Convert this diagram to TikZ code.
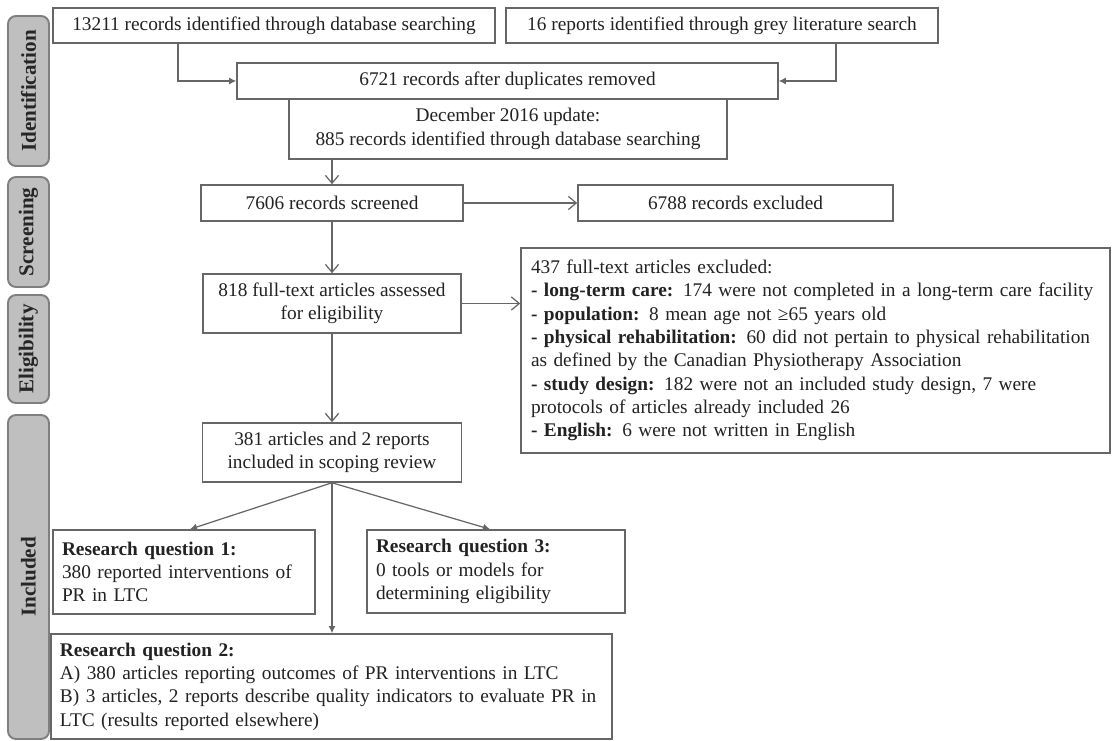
\documentclass[tikz,border=0pt]{standalone}
\usepackage{fontspec}
\setmainfont{Liberation Serif}
\usetikzlibrary{arrows.meta,positioning,calc}
\definecolor{linegrey}{HTML}{666666}
\definecolor{phasefill}{HTML}{BFBFBF}
\definecolor{phaseline}{HTML}{7F7F7F}
\definecolor{txt}{HTML}{222222}
\tikzstyle{box}=[rectangle, draw=linegrey, line width=0.9pt, fill=white, inner sep=0pt, text=txt, font=\fontsize{11}{13.3}\selectfont, align=center, anchor=center]
\tikzstyle{annot}=[box, align=left, inner xsep=0.2cm]
\tikzstyle{phase}=[rectangle, rounded corners=0.16cm, draw=phaseline, fill=phasefill, line width=1.1pt, minimum height=0.82cm, inner sep=0pt, text=black!85, font=\fontsize{12}{14}\selectfont\bfseries, rotate=90]
\tikzstyle{arr}=[draw=linegrey, line width=0.7pt, -{Latex[length=4pt,width=4pt]}]
\tikzstyle{barb}=[draw=linegrey, line width=0.7pt, -{Straight Barb[length=4.5pt,width=7.5pt]}]
\newcommand{\drawphases}[0]
{
  \node[phase, minimum width=3.0cm](ident) at (0.57,-1.82){Identification};
  \node[phase, minimum width=2.2cm](screen) at (0.57,-4.64){Screening};
  \node[phase, minimum width=2.16cm](elig) at (0.57,-6.98){Eligibility};
  \node[phase, minimum width=6.48cm](inclu) at (0.57,-11.54){Included};
}

\begin{document}
\begin{tikzpicture}
	\useasboundingbox (0,0) rectangle (22.24,-14.82);

	\drawphases{}

	% identification
	\node[box, minimum width=8.84cm, minimum height=0.70cm](search) at (5.48,-0.51){13211 records identified through database searching};
	\node[box, minimum width=8.64cm, minimum height=0.70cm](grey) at (14.44,-0.51){16 reports identified through grey literature search};
	\node[box, minimum width=10.82cm, minimum height=0.72cm](dups) at (10.15,-1.62){6721 records after duplicates removed};
	\node[box, minimum width=8.76cm, minimum height=1.20cm](update) at (10.16,-2.58){December 2016 update:\\885 records identified through database searching};

	% screening and eligibility
	\node[box, minimum width=5.24cm, minimum height=0.72cm](screened) at (6.64,-4.06){7606 records screened};
	\node[box, minimum width=6.30cm, minimum height=0.72cm](excl) at (14.71,-4.06){6788 records excluded};
	\node[box, minimum width=5.16cm, minimum height=1.18cm](fulltext) at (6.64,-6.07){818 full-text articles assessed\\for eligibility};
	\node[annot, text width=11.38cm, minimum height=4.10cm](ftexcl) at (16.31,-7.01){437 full-text articles excluded:\\
		\textbf{- long-term care:} 174 were not completed in a long-term care facility\\
		\textbf{- population:} 8 mean age not ≥65 years old\\
		\textbf{- physical rehabilitation:} 60 did not pertain to physical rehabilitation\\
		as defined by the Canadian Physiotherapy Association\\
		\textbf{- study design:} 182 were not an included study design, 7 were\\
		protocols of articles already included 26\\
		\textbf{- English:} 6 were not written in English};

	% included
	\node[box, minimum width=5.18cm, minimum height=1.18cm](incl) at (6.64,-9.05){381 articles and 2 reports\\included in scoping review};
	\node[annot, text width=4.88cm, inner xsep=0.18cm, minimum height=1.68cm](rqone) at (3.68,-11.44){\textbf{Research question 1:}\\380 reported interventions of\\PR in LTC};
	\node[annot, text width=4.80cm, inner xsep=0.18cm, minimum height=1.66cm](rqthree) at (9.92,-11.43){\textbf{Research question 3:}\\0 tools or models for\\determining eligibility};
	\node[annot, text width=10.86cm, inner xsep=0.18cm, minimum height=2.10cm](rqtwo) at (6.63,-13.73){\textbf{Research question 2:}\\
		A) 380 articles reporting outcomes of PR interventions in LTC\\
		B) 3 articles, 2 reports describe quality indicators to evaluate PR in\\
		LTC (results reported elsewhere)};

	\coordinate (ljoin) at (3.56,-1.62);
	\coordinate (rjoin) at (16.72,-1.62);
	\draw[arr] (search.south -| ljoin) |- (dups.west);
	\draw[arr] (grey.south -| rjoin) |- (dups.east);
	\draw[barb] (update.south -| screened.north) -- (screened.north);
	\draw[barb] (screened.east) -- (excl.west);
	\draw[barb] (screened.south) -- (fulltext.north);
	\draw[barb] (fulltext.east) -- (fulltext.east -| ftexcl.west);
	\draw[barb] (fulltext.south) -- (incl.north);
	\draw[arr] (incl.south) -- ($(rqone.north)+(0.12,0)$);
	\draw[arr] (incl.south) -- ($(rqthree.north)+(-0.12,0)$);
	\draw[arr] (incl.south) -- (incl.south |- rqtwo.north);

\end{tikzpicture}
\end{document}
